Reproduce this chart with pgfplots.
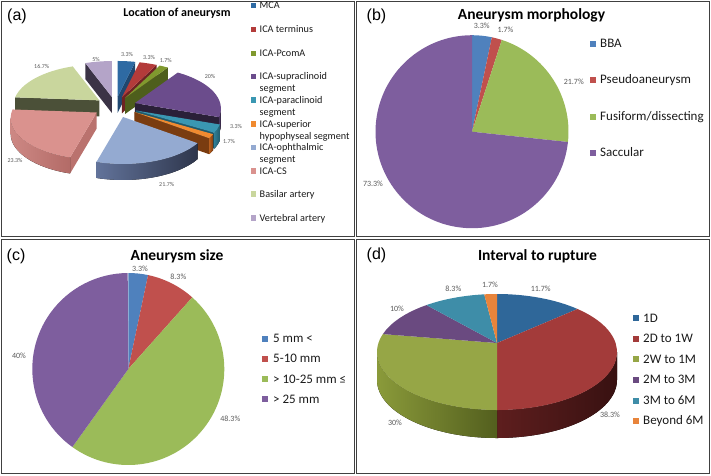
\documentclass[border=0pt]{standalone}
\usepackage{fontspec}
\setmainfont{Carlito}
\newfontfamily\arialfont{Liberation Sans}
\usepackage{pgfplots}
\pgfplotsset{compat=1.18}
\usepackage{pgfplotstable}

% ---------------- data (percent) ----------------
\pgfplotstableread{
row value
0 3.3
1 3.3
2 1.7
3 20
4 3.3
5 1.7
6 21.7
7 23.3
8 16.7
9 5
}\tabA
\pgfplotstableread{
row value
0 3.3
1 1.7
2 21.7
3 73.3
}\tabB
\pgfplotstableread{
row value
0 3.3
1 8.3
2 48.3
3 40
}\tabC
\pgfplotstableread{
row value
0 11.7
1 38.3
2 30
3 10
4 8.3
5 1.7
}\tabD

% ---------------- colours: top, side, rim-left, rim-right ----------------
\newcommand\slicecol[5]{\definecolor{#1}{HTML}{#2}\definecolor{#1s}{HTML}{#3}\definecolor{#1l}{HTML}{#4}\definecolor{#1r}{HTML}{#5}}
\slicecol{A0}{2E6AA3}{1F4770}{2A5F93}{1C4166}
\slicecol{A1}{B33B3A}{6E2323}{9E3434}{6E2323}
\slicecol{A2}{80992E}{4E5E1C}{72892A}{4E5E1C}
\slicecol{A3}{6B4C8C}{2A2038}{4A355F}{2A2038}
\slicecol{A4}{3A97B2}{1F5A6B}{2F7C93}{1F5A6B}
\slicecol{A5}{F08A30}{7A3C10}{B8601F}{7A3C10}
\slicecol{A6}{94AAD1}{3E4A66}{62739A}{2E364C}
\slicecol{A7}{DA928E}{BA726E}{CD8884}{B36B67}
\slicecol{A8}{C9D69D}{4B5038}{9AA574}{4B5038}
\slicecol{A9}{B4A4C8}{3B3346}{8C7DA0}{3B3346}
\slicecol{B0}{4F81BD}{4F81BD}{4F81BD}{4F81BD}
\slicecol{B1}{C0504D}{C0504D}{C0504D}{C0504D}
\slicecol{B2}{9BBB59}{9BBB59}{9BBB59}{9BBB59}
\slicecol{B3}{7E5E9E}{7E5E9E}{7E5E9E}{7E5E9E}
\slicecol{C0}{4F81BD}{4F81BD}{4F81BD}{4F81BD}
\slicecol{C1}{C0504D}{C0504D}{C0504D}{C0504D}
\slicecol{C2}{9BBB59}{9BBB59}{9BBB59}{9BBB59}
\slicecol{C3}{7E5E9E}{7E5E9E}{7E5E9E}{7E5E9E}
\slicecol{D0}{2F6799}{1E4266}{2A5C89}{1E4266}
\slicecol{D1}{A33B3A}{5A1E1E}{5E1E1E}{381111}
\slicecol{D2}{96A646}{5E6A26}{8A9A3A}{535F1E}
\slicecol{D3}{6A4A80}{3C2A4A}{5A3E6E}{3C2A4A}
\slicecol{D4}{3E8DA8}{245566}{347A92}{245566}
\slicecol{D5}{E8843B}{8A4A1A}{C46A28}{8A4A1A}
\definecolor{lbl}{HTML}{595959}
\definecolor{frame}{HTML}{404040}
\definecolor{txt}{HTML}{1A1A1A}

% ---------------- pie machinery ----------------
\newcommand\piecompute[2]{%
  \pgfplotstablegetrowsof{#1}\pgfmathtruncatemacro\nrows{\pgfplotsretval-1}%
  \gdef\pcum{0}%
  \foreach \i in {0,...,\nrows}{%
    \pgfplotstablegetelem{\i}{value}\of{#1}%
    \pgfmathsetmacro\pnew{\pcum+\pgfplotsretval}%
    \pgfmathsetmacro\sa{90-3.6*\pcum}%
    \pgfmathsetmacro\ea{90-3.6*\pnew}%
    \expandafter\xdef\csname #2a\i\endcsname{\sa}%
    \expandafter\xdef\csname #2b\i\endcsname{\ea}%
    \xdef\pcum{\pnew}%
  }}
\newcommand\piegeom[2]{%
  \edef\psa{\csname #1a#2\endcsname}\edef\psb{\csname #1b#2\endcsname}%
  \pgfmathsetmacro\psm{(\psa+\psb)/2}%
  \pgfmathsetmacro\ox{\ex*\rx*cos(\psm)}%
  \pgfmathsetmacro\oy{\ex*\ry*sin(\psm)}%
  \coordinate (Vb) at (axis cs:\Vx,\Vy);%
  \coordinate (Eb) at (axis cs:\Ex,\Ey);%
  \coordinate (Vs) at ([shift={(\ox pt,\oy pt)}]Vb);%
  \coordinate (Es) at ([shift={(\ox pt,\oy pt)}]Eb);}
\newcommand\pietop[2]{%
  \piegeom{#1}{#2}%
  \fill[#1#2] (Vs) -- ([shift={(\psa:\rx pt and \ry pt)}]Es)
    arc[start angle=\psa,end angle=\psb,x radius=\rx pt,y radius=\ry pt] -- cycle;}
\newcommand\pieside[2]{%
  \piegeom{#1}{#2}%
  \ifdim\ex pt>0pt
    \pgfmathtruncatemacro\vis{cos(\psa)<-0.001}%
    \ifnum\vis=1
      \fill[#1#2s] (Vs) -- ([shift={(\psa:\rx pt and \ry pt)}]Es) -- ++(0pt,-\dep pt) -- ([yshift=-\dep pt]Vs) -- cycle;
    \fi
    \pgfmathtruncatemacro\vis{cos(\psb)>0.001}%
    \ifnum\vis=1
      \fill[#1#2s] (Vs) -- ([shift={(\psb:\rx pt and \ry pt)}]Es) -- ++(0pt,-\dep pt) -- ([yshift=-\dep pt]Vs) -- cycle;
    \fi
  \fi
  \pgfmathsetmacro\lo{max(\psb,-180)}%
  \pgfmathsetmacro\hi{min(\psa,0)}%
  \ifdim\lo pt<\hi pt
    \fill[left color=#1#2l,right color=#1#2r] ([shift={(\hi:\rx pt and \ry pt)}]Es)
      arc[start angle=\hi,end angle=\lo,x radius=\rx pt,y radius=\ry pt] -- ++(0pt,-\dep pt)
      arc[start angle=\lo,end angle=\hi,x radius=\rx pt,y radius=\ry pt] -- cycle;
  \fi}

\tikzset{
  lab/.style={text=lbl,inner sep=0pt,anchor=center},
  leg/.style={text=txt,inner sep=0pt,anchor=base west},
}
\newcommand\fa{\fontsize{6}{7}\selectfont}
\newcommand\fl{\fontsize{8}{9}\selectfont}
\newcommand\legA{\fontsize{10.2}{12}\selectfont}
\newcommand\legB{\fontsize{13}{15}\selectfont}

\begin{document}
\begin{tikzpicture}
\begin{axis}[width=711pt,height=475pt,scale only axis,hide axis,
  xmin=0,xmax=711,ymin=0,ymax=475,y dir=reverse,clip=false]
\path (axis cs:0,0) rectangle (axis cs:711,475);

\pgfplotsextra{%
  % (a) exploded 3D pie
  \piecompute{\tabA}{A}%
  \def\Vx{115.3}\def\Vy{107.3}\def\Ex{115.3}\def\Ey{112.8}%
  \def\rx{86}\def\ry{41.5}\def\dep{16}\def\ex{0.25}%
  \foreach \i in {0,9,1,2,8,3,4,5,7,6}{\pieside{A}{\i}\pietop{A}{\i}}%
  % (b) flat pie
  \piecompute{\tabB}{B}%
  \def\Vx{472}\def\Vy{131.7}\def\Ex{472}\def\Ey{131.7}%
  \def\rx{96.5}\def\ry{96.5}\def\dep{0}\def\ex{0}%
  \foreach \i in {0,...,3}{\pietop{B}{\i}}%
  % (c) flat pie
  \piecompute{\tabC}{C}%
  \def\Vx{128.3}\def\Vy{369}\def\Ex{128.3}\def\Ey{369}%
  \def\rx{96}\def\ry{96}\def\dep{0}\def\ex{0}%
  \foreach \i in {0,...,3}{\pietop{C}{\i}}%
  % (d) 3D pie
  \piecompute{\tabD}{D}%
  \def\Vx{497}\def\Vy{343}\def\Ex{497}\def\Ey{352}%
  \def\rx{120}\def\ry{58}\def\dep{28}\def\ex{0}%
  \foreach \i in {0,...,5}{\pieside{D}{\i}}%
  \foreach \i in {0,...,5}{\pietop{D}{\i}}%
}

% panel frames
\draw[frame,line width=0.8pt] (axis cs:1,1) rectangle (axis cs:354,236.5);
\draw[frame,line width=0.8pt] (axis cs:356,1) rectangle (axis cs:709.5,236.5);
\draw[frame,line width=0.8pt] (axis cs:1,239) rectangle (axis cs:354,473.5);
\draw[frame,line width=0.8pt] (axis cs:356,239) rectangle (axis cs:709.5,473.5);

% panel letters
\node[inner sep=0pt,anchor=base west,font=\arialfont\fontsize{16}{18}\selectfont] at (axis cs:7,20.2) {(a)};
\node[inner sep=0pt,anchor=base west,font=\arialfont\fontsize{16}{18}\selectfont] at (axis cs:366.5,20.4) {(b)};
\node[inner sep=0pt,anchor=base west,font=\arialfont\fontsize{16}{18}\selectfont] at (axis cs:6.5,260.9) {(c)};
\node[inner sep=0pt,anchor=base west,font=\arialfont\fontsize{16}{18}\selectfont] at (axis cs:366.5,259.9) {(d)};

% titles
\node[inner sep=0pt,anchor=base,font=\bfseries\fontsize{12}{14}\selectfont] at (axis cs:177,16.3) {Location of aneurysm};
\node[inner sep=0pt,anchor=base,font=\bfseries\fontsize{15.5}{18}\selectfont] at (axis cs:531.5,19) {Aneurysm morphology};
\node[inner sep=0pt,anchor=base,font=\bfseries\fontsize{15.5}{18}\selectfont] at (axis cs:177,260) {Aneurysm size};
\node[inner sep=0pt,anchor=base,font=\bfseries\fontsize{15.5}{18}\selectfont] at (axis cs:537.5,260) {Interval to rupture};

% legend (a)
\fill[A0] (axis cs:250.7,3.1) rectangle (axis cs:256,8.4);
\fill[A1] (axis cs:250.7,27.1) rectangle (axis cs:256,32.4);
\fill[A2] (axis cs:250.7,50.7) rectangle (axis cs:256,56);
\fill[A3] (axis cs:250.7,74.1) rectangle (axis cs:256,79.4);
\fill[A4] (axis cs:250.7,97.4) rectangle (axis cs:256,102.7);
\fill[A5] (axis cs:250.7,121.4) rectangle (axis cs:256,126.7);
\fill[A6] (axis cs:250.7,144.7) rectangle (axis cs:256,150);
\fill[A7] (axis cs:250.7,168.4) rectangle (axis cs:256,173.7);
\fill[A8] (axis cs:250.7,191.4) rectangle (axis cs:256,196.7);
\fill[A9] (axis cs:250.7,215.4) rectangle (axis cs:256,220.7);
\node[leg,font=\legA] at (axis cs:259.5,8.8) {MCA};
\node[leg,font=\legA] at (axis cs:259.5,32.8) {ICA terminus};
\node[leg,font=\legA] at (axis cs:259.5,56.4) {ICA-PcomA};
\node[leg,font=\legA] at (axis cs:259.5,79.8) {ICA-supraclinoid};
\node[leg,font=\legA] at (axis cs:259.5,91.8) {segment};
\node[leg,font=\legA] at (axis cs:259.5,103.1) {ICA-paraclinoid};
\node[leg,font=\legA] at (axis cs:259.5,115.1) {segment};
\node[leg,font=\legA] at (axis cs:259.5,127.1) {ICA-superior};
\node[leg,font=\legA] at (axis cs:259.5,139.1) {hypophyseal segment};
\node[leg,font=\legA] at (axis cs:259.5,150.4) {ICA-ophthalmic};
\node[leg,font=\legA] at (axis cs:259.5,162.1) {segment};
\node[leg,font=\legA] at (axis cs:259.5,174.1) {ICA-CS};
\node[leg,font=\legA] at (axis cs:259.5,197.1) {Basilar artery};
\node[leg,font=\legA] at (axis cs:259.5,221.1) {Vertebral artery};

% legend (b)
\fill[B0] (axis cs:590,41) rectangle (axis cs:596,47);
\fill[B1] (axis cs:590,77) rectangle (axis cs:596,83);
\fill[B2] (axis cs:590,114) rectangle (axis cs:596,120);
\fill[B3] (axis cs:590,150) rectangle (axis cs:596,156);
\node[leg,font=\legB] at (axis cs:600,47.9) {BBA};
\node[leg,font=\legB] at (axis cs:600,83.9) {Pseudoaneurysm};
\node[leg,font=\legB] at (axis cs:600,120.9) {Fusiform/dissecting};
\node[leg,font=\legB] at (axis cs:600,156.9) {Saccular};

% legend (c)
\fill[C0] (axis cs:262,336) rectangle (axis cs:268,342);
\fill[C1] (axis cs:262,356) rectangle (axis cs:268,362);
\fill[C2] (axis cs:262,376.3) rectangle (axis cs:268,382.3);
\fill[C3] (axis cs:262,396.3) rectangle (axis cs:268,402.3);
\node[leg,font=\legB] at (axis cs:273,342.9) {5 mm <};
\node[leg,font=\legB] at (axis cs:273,362.9) {5-10 mm};
\node[leg,font=\legB] at (axis cs:273,383.2) {> 10-25 mm ≤};
\node[leg,font=\legB] at (axis cs:273,403.2) {> 25 mm};

% legend (d)
\fill[D0] (axis cs:633,315.3) rectangle (axis cs:639,321.3);
\fill[D1] (axis cs:633,336) rectangle (axis cs:639,342);
\fill[D2] (axis cs:633,356.3) rectangle (axis cs:639,362.3);
\fill[D3] (axis cs:633,377) rectangle (axis cs:639,383);
\fill[D4] (axis cs:633,397.7) rectangle (axis cs:639,403.7);
\fill[D5] (axis cs:633,417.7) rectangle (axis cs:639,423.7);
\node[leg,font=\legB] at (axis cs:643,322.1) {1D};
\node[leg,font=\legB] at (axis cs:643,342.8) {2D to 1W};
\node[leg,font=\legB] at (axis cs:643,363.1) {2W to 1M};
\node[leg,font=\legB] at (axis cs:643,383.8) {2M to 3M};
\node[leg,font=\legB] at (axis cs:643,404.5) {3M to 6M};
\node[leg,font=\legB] at (axis cs:643,424.5) {Beyond 6M};

% data labels (a)
\node[lab,font=\fa] at (axis cs:96,59) {5\%};
\node[lab,font=\fa] at (axis cs:127,54.3) {3.3\%};
\node[lab,font=\fa] at (axis cs:149,57.5) {3.3\%};
\node[lab,font=\fa] at (axis cs:165.7,60.8) {1.7\%};
\node[lab,font=\fa] at (axis cs:210,76) {20\%};
\node[lab,font=\fa] at (axis cs:236,126) {3.3\%};
\node[lab,font=\fa] at (axis cs:229,141.7) {1.7\%};
\node[lab,font=\fa] at (axis cs:166.7,184.3) {21.7\%};
\node[lab,font=\fa] at (axis cs:15,160) {23.3\%};
\node[lab,font=\fa] at (axis cs:41.7,66.7) {16.7\%};
% data labels (b)
\node[lab,font=\fl] at (axis cs:481.7,26) {3.3\%};
\node[lab,font=\fl] at (axis cs:505.5,30) {1.7\%};
\node[lab,font=\fl] at (axis cs:573.8,81.7) {21.7\%};
\node[lab,font=\fl] at (axis cs:373,184) {73.3\%};
% data labels (c)
\node[lab,font=\fl] at (axis cs:140,268.3) {3.3\%};
\node[lab,font=\fl] at (axis cs:178.3,276.7) {8.3\%};
\node[lab,font=\fl] at (axis cs:230.3,418.3) {48.3\%};
\node[lab,font=\fl] at (axis cs:19,355.7) {40\%};
% data labels (d)
\node[lab,font=\fl] at (axis cs:540.7,288.3) {11.7\%};
\node[lab,font=\fl] at (axis cs:490,285) {1.7\%};
\node[lab,font=\fl] at (axis cs:453.3,288.3) {8.3\%};
\node[lab,font=\fl] at (axis cs:397,309) {10\%};
\node[lab,font=\fl] at (axis cs:395,422.7) {30\%};
\node[lab,font=\fl] at (axis cs:610,414.3) {38.3\%};
\end{axis}
\end{tikzpicture}
\end{document}
